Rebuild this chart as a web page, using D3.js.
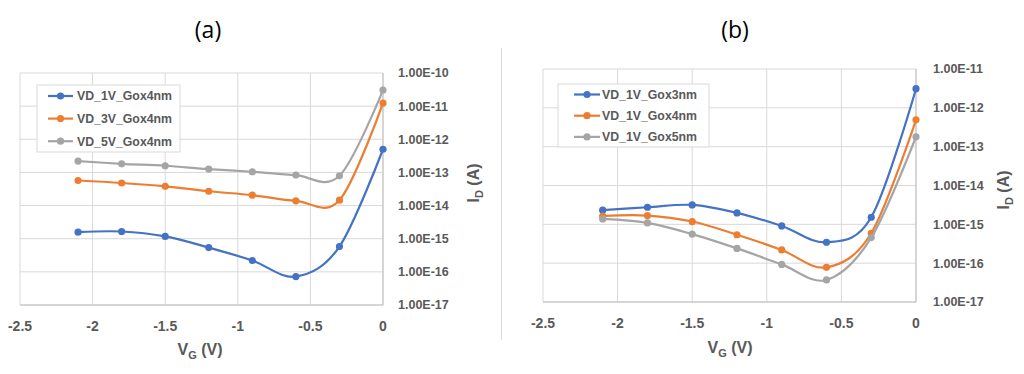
<!DOCTYPE html>
<html>
<head>
<meta charset="utf-8">
<script src="https://cdn.jsdelivr.net/npm/d3@7"></script>
<style>
  html, body { margin: 0; padding: 0; background: #fff; }
  svg { display: block; font-family: "Liberation Sans", Arial, sans-serif; }
</style>
</head>
<body>
<svg id="chart" width="1024" height="374"></svg>
<script>
// ---- Data ----
const vg = [-2.1, -1.8, -1.5, -1.2, -0.9, -0.6, -0.3, 0];
const xTicks = [-2.5, -2, -1.5, -1, -0.5, 0];

// Panel (a)
const aNames = ["VD_1V_Gox4nm", "VD_3V_Gox4nm", "VD_5V_Gox4nm"];
const aVD1 = [1.58e-15, 1.65e-15, 1.17e-15, 5.4e-16, 2.2e-16, 7.2e-17, 5.8e-16, 5.0e-13];
const aVD3 = [5.7e-14, 4.8e-14, 3.8e-14, 2.7e-14, 2.06e-14, 1.39e-14, 1.45e-14, 1.24e-11];
const aVD5 = [2.2e-13, 1.82e-13, 1.59e-13, 1.26e-13, 1.05e-13, 8.3e-14, 7.9e-14, 3.06e-11];
const aYTicks = [1e-10, 1e-11, 1e-12, 1e-13, 1e-14, 1e-15, 1e-16, 1e-17];

// Panel (b)
const bNames = ["VD_1V_Gox3nm", "VD_1V_Gox4nm", "VD_1V_Gox5nm"];
const bGox3 = [2.31e-15, 2.75e-15, 3.16e-15, 1.97e-15, 9.1e-16, 3.46e-16, 1.52e-15, 3.11e-12];
const bGox4 = [1.64e-15, 1.68e-15, 1.18e-15, 5.4e-16, 2.19e-16, 7.8e-17, 5.9e-16, 4.9e-13];
const bGox5 = [1.38e-15, 1.09e-15, 5.6e-16, 2.4e-16, 9.3e-17, 3.7e-17, 4.55e-16, 1.8e-13];
const bYTicks = [1e-11, 1e-12, 1e-13, 1e-14, 1e-15, 1e-16, 1e-17];

const colors = ["#4472C4", "#ED7D31", "#A5A5A5"];
const textColor = "#595959";
const gridColor = "#D9D9D9";

const svg = d3.select("#chart");

function fmtExp(v) {
  const e = Math.round(Math.log10(v));
  const sign = e < 0 ? "-" : "+";
  return "1.00E" + sign + String(Math.abs(e)).padStart(2, "0");
}

function drawPanel(cfg) {
  const g = svg.append("g");
  const x = d3.scaleLinear().domain([-2.5, 0]).range([cfg.left, cfg.right]);
  const y = d3.scaleLog().domain([cfg.yTicks[cfg.yTicks.length - 1], cfg.yTicks[0]]).range([cfg.bottom, cfg.top]);

  // gridlines
  g.append("g").selectAll("line.h").data(cfg.yTicks).join("line")
    .attr("x1", cfg.left).attr("x2", cfg.right)
    .attr("y1", d => y(d)).attr("y2", d => y(d))
    .attr("stroke", gridColor).attr("stroke-width", 1);
  g.append("g").selectAll("line.v").data(xTicks).join("line")
    .attr("x1", d => x(d)).attr("x2", d => x(d))
    .attr("y1", cfg.top).attr("y2", cfg.bottom)
    .attr("stroke", gridColor).attr("stroke-width", 1);

  // axis lines
  g.append("line").attr("x1", cfg.left).attr("x2", cfg.right)
    .attr("y1", cfg.bottom).attr("y2", cfg.bottom).attr("stroke", "#BFBFBF");
  g.append("line").attr("x1", x(0)).attr("x2", x(0))
    .attr("y1", cfg.top).attr("y2", cfg.bottom).attr("stroke", "#BFBFBF");

  // y tick labels (right side)
  g.append("g").selectAll("text").data(cfg.yTicks).join("text")
    .attr("x", cfg.right + cfg.yLabelDx).attr("y", d => y(d))
    .attr("dy", "0.35em")
    .attr("font-size", 12.5).attr("font-weight", "bold").attr("fill", textColor)
    .text(fmtExp);

  // x tick labels
  g.append("g").selectAll("text").data(xTicks).join("text")
    .attr("x", d => x(d)).attr("y", cfg.bottom + cfg.xLabelDy)
    .attr("text-anchor", "middle").attr("dy", "0.35em")
    .attr("font-size", 14).attr("font-weight", "bold").attr("fill", textColor)
    .text(d => d3.format("")(d).replace("−", "-"));

  // axis titles
  const xt = g.append("text").attr("x", cfg.xTitleX).attr("y", cfg.xTitleY)
    .attr("text-anchor", "middle").attr("font-size", 16).attr("font-weight", "bold").attr("fill", textColor);
  xt.append("tspan").text("V");
  xt.append("tspan").attr("font-size", 11).attr("dy", 4).text("G");
  xt.append("tspan").attr("dy", -4).text(" (V)");

  const yt = g.append("text")
    .attr("transform", `translate(${cfg.yTitleX},${cfg.yTitleY}) rotate(-90)`)
    .attr("text-anchor", "middle").attr("font-size", 16).attr("font-weight", "bold").attr("fill", textColor);
  yt.append("tspan").text("I");
  yt.append("tspan").attr("font-size", 11).attr("dy", 4).text("D");
  yt.append("tspan").attr("dy", -4).text(" (A)");

  // panel title
  g.append("text").attr("x", cfg.titleX).attr("y", 38)
    .attr("text-anchor", "middle").attr("font-size", 23).attr("fill", "#000")
    .attr("font-family", "'Open Sans', 'Liberation Sans', sans-serif")
    .text(cfg.title);

  // series
  const line = d3.line().x(d => x(d[0])).y(d => y(d[1])).curve(d3.curveCardinal.tension(0));
  cfg.series.forEach((vals, i) => {
    const pts = vg.map((v, k) => [v, vals[k]]);
    g.append("path").attr("d", line(pts)).attr("fill", "none")
      .attr("stroke", colors[i]).attr("stroke-width", 2.2);
    g.append("g").selectAll("circle").data(pts).join("circle")
      .attr("cx", d => x(d[0])).attr("cy", d => y(d[1])).attr("r", 3.6)
      .attr("fill", colors[i]);
  });

  // legend
  const L = cfg.legend;
  g.append("rect").attr("x", L.x).attr("y", L.y).attr("width", L.w).attr("height", L.h)
    .attr("fill", "#fff").attr("stroke", gridColor);
  cfg.names.forEach((n, i) => {
    const yy = L.y + L.first + i * L.step;
    g.append("line").attr("x1", L.x + L.lx1).attr("x2", L.x + L.lx2)
      .attr("y1", yy).attr("y2", yy).attr("stroke", colors[i]).attr("stroke-width", 2.2);
    g.append("circle").attr("cx", L.x + (L.lx1 + L.lx2) / 2).attr("cy", yy).attr("r", 3.6).attr("fill", colors[i]);
    g.append("text").attr("x", L.x + L.tx).attr("y", yy).attr("dy", "0.35em")
      .attr("font-size", 12.3).attr("font-weight", "bold").attr("fill", textColor).text(n);
  });
}

drawPanel({
  title: "(a)", titleX: 208,
  left: 20, right: 383, top: 73, bottom: 305,
  yTicks: aYTicks, yLabelDx: 15, xLabelDy: 21,
  xTitleX: 200, xTitleY: 355, yTitleX: 479, yTitleY: 183,
  series: [aVD1, aVD3, aVD5], names: aNames,
  legend: { x: 37, y: 85, w: 143, h: 67, first: 11, step: 22.6, lx1: 11, lx2: 36, tx: 40 }
});

drawPanel({
  title: "(b)", titleX: 735,
  left: 543, right: 916, top: 69, bottom: 302,
  yTicks: bYTicks, yLabelDx: 17, xLabelDy: 21,
  xTitleX: 730, xTitleY: 353, yTitleX: 1009, yTitleY: 190,
  series: [bGox3, bGox4, bGox5], names: bNames,
  legend: { x: 558, y: 84, w: 151, h: 63, first: 10.5, step: 21.2, lx1: 16, lx2: 42, tx: 44 }
});

// divider between panels
svg.append("line").attr("x1", 501.5).attr("x2", 501.5).attr("y1", 48).attr("y2", 340)
  .attr("stroke", "#D9D9D9").attr("stroke-width", 1);
</script>
</body>
</html>
